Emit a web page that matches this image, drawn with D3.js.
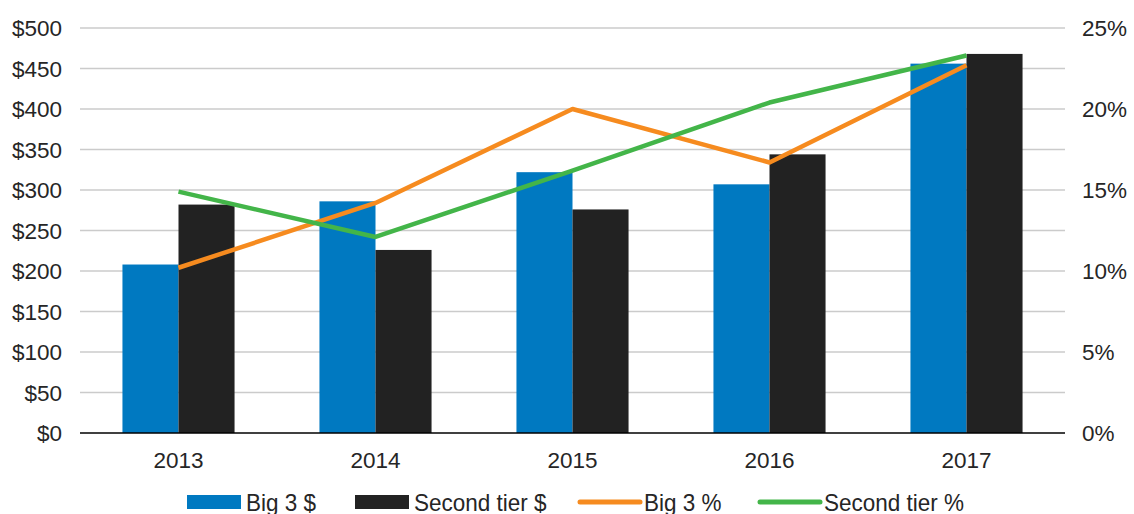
<!DOCTYPE html>
<html>
<head>
<meta charset="utf-8">
<script src="https://cdn.jsdelivr.net/npm/d3@7"></script>
<style>
  html, body { margin: 0; padding: 0; background: #fff; }
  svg { display: block; }
  text { font-family: "Liberation Sans", Arial, sans-serif; fill: #262626; }
</style>
</head>
<body>
<svg id="chart" width="1134" height="514"></svg>
<script>
// Revenue ($) and share (%) by year for the two groups
const years = ["2013", "2014", "2015", "2016", "2017"];
const big3Dollars = [208, 286, 322, 307, 456];
const secondTierDollars = [282, 226, 276, 344, 468];
const big3Pct = [10.2, 14.2, 20.0, 16.7, 22.7];
const secondTierPct = [14.9, 12.1, 16.2, 20.4, 23.3];
const dollarTicks = [0, 50, 100, 150, 200, 250, 300, 350, 400, 450, 500];
const pctTicks = [0, 5, 10, 15, 20, 25];

const colors = {
  big3: "#0079c1",
  second: "#222222",
  big3Pct: "#f68b1f",
  secondPct: "#43b549"
};

const svg = d3.select("#chart");
const plot = { left: 80, right: 1065, top: 28, bottom: 433 };
const fontSize = "22.5px";

const x0 = d3.scaleBand()
  .domain(years)
  .range([plot.left, plot.right])
  .paddingInner(0.431)
  .paddingOuter(0.2155);

const x1 = d3.scaleBand()
  .domain(["big3", "second"])
  .range([0, x0.bandwidth()]);

const yLeft = d3.scaleLinear().domain([0, 500]).range([plot.bottom, plot.top]);
const yRight = d3.scaleLinear().domain([0, 25]).range([plot.bottom, plot.top]);

// Horizontal gridlines
svg.append("g")
  .selectAll("line")
  .data(dollarTicks.filter(d => d > 0))
  .join("line")
  .attr("x1", plot.left)
  .attr("x2", plot.right)
  .attr("y1", d => yLeft(d))
  .attr("y2", d => yLeft(d))
  .attr("stroke", "#cbcbcb")
  .attr("stroke-width", 1.3);

// Left axis ($)
const leftAxis = svg.append("g")
  .attr("transform", `translate(${plot.left},0)`)
  .call(d3.axisLeft(yLeft).tickValues(dollarTicks).tickSize(0).tickPadding(18)
    .tickFormat(d => "$" + d));
leftAxis.select(".domain").remove();
leftAxis.selectAll("text")
  .style("font-size", fontSize)
  .attr("fill", "#262626")
  .attr("dy", "0.35em");

// Right axis (%)
const rightAxis = svg.append("g")
  .attr("transform", `translate(${plot.right},0)`)
  .call(d3.axisRight(yRight).tickValues(pctTicks).tickSize(0).tickPadding(17)
    .tickFormat(d => d + "%"));
rightAxis.select(".domain").remove();
rightAxis.selectAll("text")
  .style("font-size", fontSize)
  .attr("fill", "#262626")
  .attr("dy", "0.35em");

// Bars
const rows = years.map((y, i) => ({
  year: y,
  values: [
    { key: "big3", value: big3Dollars[i] },
    { key: "second", value: secondTierDollars[i] }
  ]
}));

svg.append("g")
  .selectAll("g")
  .data(rows)
  .join("g")
  .attr("transform", d => `translate(${x0(d.year)},0)`)
  .selectAll("rect")
  .data(d => d.values)
  .join("rect")
  .attr("x", d => x1(d.key))
  .attr("width", x1.bandwidth())
  .attr("y", d => yLeft(d.value))
  .attr("height", d => yLeft(0) - yLeft(d.value))
  .attr("fill", d => colors[d.key]);

// Bottom axis
const bottomAxis = svg.append("g")
  .attr("transform", `translate(0,${plot.bottom})`)
  .call(d3.axisBottom(x0).tickSize(0).tickPadding(19));
bottomAxis.select(".domain")
  .attr("stroke", "#000")
  .attr("stroke-width", 1.5)
  .attr("d", `M${plot.left},0H${plot.right}`);
bottomAxis.selectAll("text")
  .style("font-size", fontSize)
  .attr("fill", "#262626");

// Percentage lines
const line = d3.line()
  .x((d, i) => x0(years[i]) + x0.bandwidth() / 2)
  .y(d => yRight(d));

svg.append("path")
  .datum(big3Pct)
  .attr("d", line)
  .attr("fill", "none")
  .attr("stroke", colors.big3Pct)
  .attr("stroke-width", 4.5)
  .attr("stroke-linejoin", "round");

svg.append("path")
  .datum(secondTierPct)
  .attr("d", line)
  .attr("fill", "none")
  .attr("stroke", colors.secondPct)
  .attr("stroke-width", 4.5)
  .attr("stroke-linejoin", "round");

// Legend
const legendItems = [
  { label: "Big 3 $", type: "rect", color: colors.big3, x: 187 },
  { label: "Second tier $", type: "rect", color: colors.second, x: 355 },
  { label: "Big 3 %", type: "line", color: colors.big3Pct, x: 580 },
  { label: "Second tier %", type: "line", color: colors.secondPct, x: 760 }
];
const legendY = 502;
const legend = svg.append("g");
legendItems.forEach(item => {
  const g = legend.append("g").attr("transform", `translate(${item.x},${legendY})`);
  if (item.type === "rect") {
    g.append("rect").attr("x", 0).attr("y", -7).attr("width", 54).attr("height", 14)
      .attr("fill", item.color);
  } else {
    g.append("line").attr("x1", 0).attr("x2", 60).attr("y1", 0).attr("y2", 0)
      .attr("stroke", item.color).attr("stroke-width", 5).attr("stroke-linecap", "round");
  }
  g.append("g")
    .attr("transform", `translate(${item.type === "rect" ? 59 : 64},0) scale(1,1.08)`)
    .append("text")
    .attr("dy", "0.35em")
    .style("font-size", fontSize)
    .text(item.label);
});
</script>
</body>
</html>
